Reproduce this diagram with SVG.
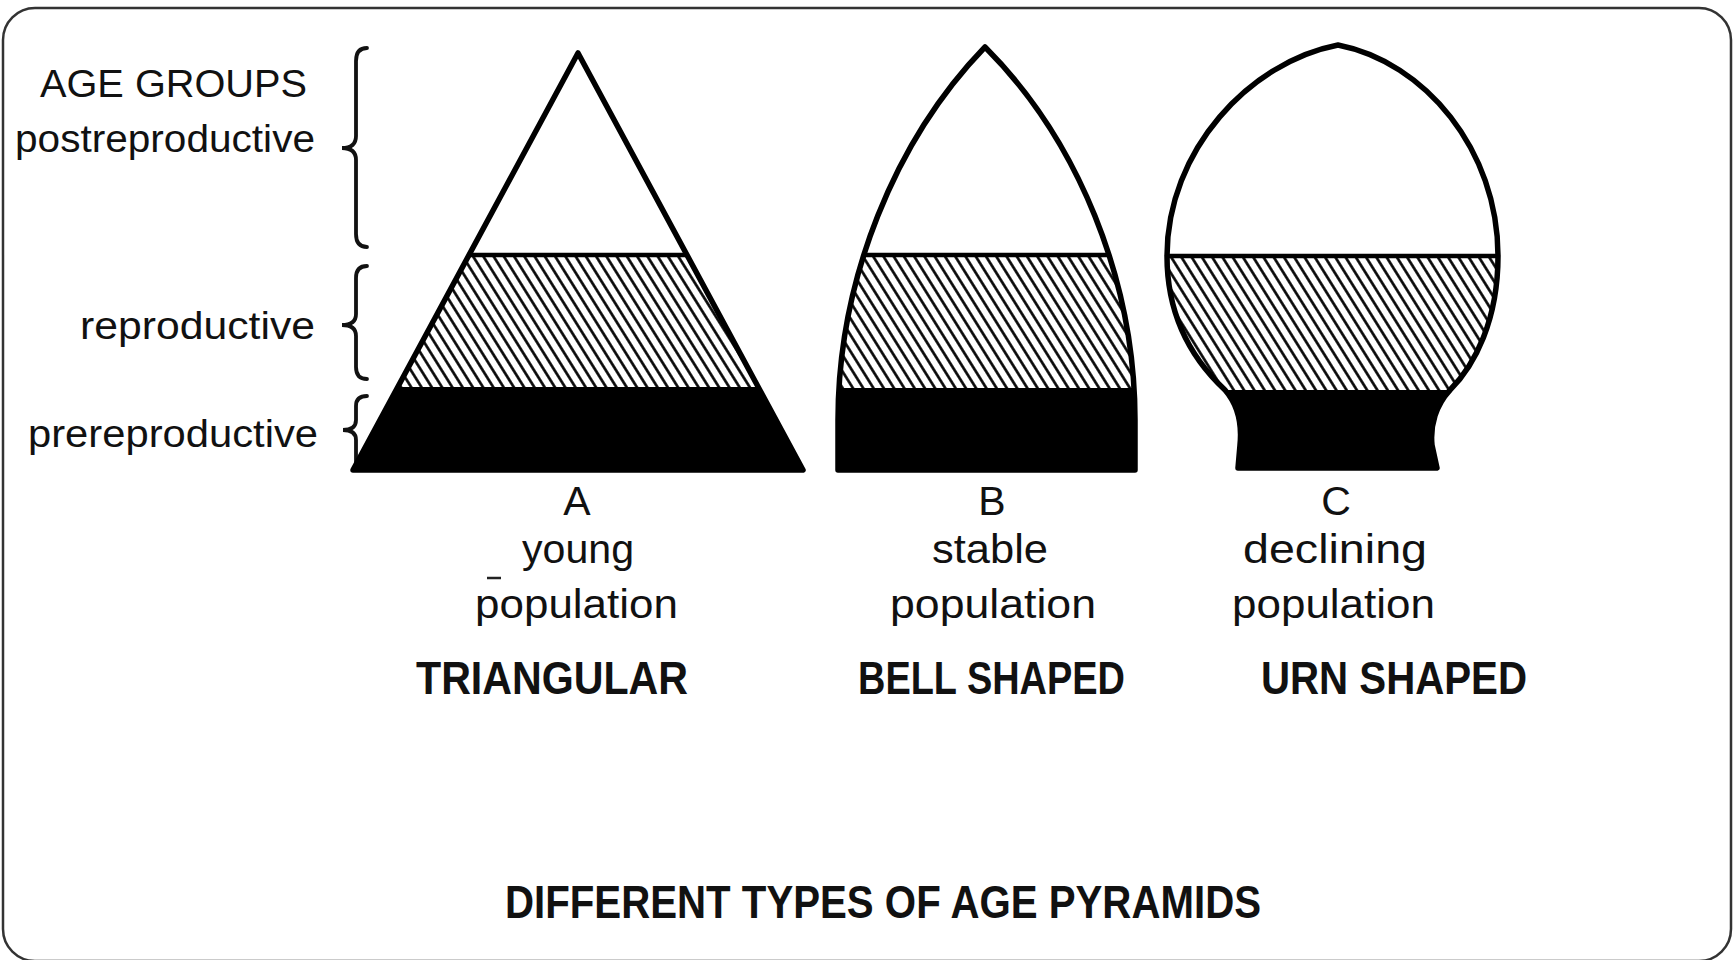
<svg xmlns="http://www.w3.org/2000/svg" width="1735" height="960" viewBox="0 0 1735 960">
<style>
.lbl{font-family:"Liberation Sans",Arial,sans-serif;font-size:39px;fill:#111}
.cap{font-family:"Liberation Sans",Arial,sans-serif;font-size:41px;fill:#111}
.bold{font-family:"Liberation Sans",Arial,sans-serif;font-size:46px;font-weight:bold;fill:#111}
.outline{fill:none;stroke:#000;stroke-width:5.5;stroke-linejoin:round}
.divider{stroke:#000;stroke-width:4.5}
.brace{fill:none;stroke:#111;stroke-width:3.8;stroke-linecap:round}
</style>
<defs>
<pattern id="hatch" patternUnits="userSpaceOnUse" width="8.7" height="10" patternTransform="rotate(-32)">
<rect width="8.7" height="10" fill="#fff"/>
<line x1="4.35" y1="-1" x2="4.35" y2="11" stroke="#000" stroke-width="2.6"/>
</pattern>
<path id="shapeA" d="M578,53 L803,470 L353,470 Z"/>
<path id="shapeB" d="M838,470 L838,420 C838,280 895,140 985,47 C1078,140 1135,280 1135,420 L1135,470 Z"/>
<path id="shapeC" d="M1338,45 C1425,62 1498,150 1498,256 C1498,320 1475,365 1450,390 C1436,405 1430,425 1432,445 L1437,468 L1238,468 L1240,445 C1242,425 1238,405 1225,390 C1195,362 1167,320 1167,256 C1167,150 1250,62 1338,45 Z"/>
<clipPath id="clipA"><use href="#shapeA"/></clipPath>
<clipPath id="clipB"><use href="#shapeB"/></clipPath>
<clipPath id="clipC"><use href="#shapeC"/></clipPath>
</defs>
<rect x="0" y="0" width="1735" height="960" fill="#fff"/>
<rect id="frame" x="3" y="8" width="1728" height="953" rx="32" ry="32" fill="none" stroke="#333" stroke-width="2.5"/>

<g id="age-labels">
<text class="lbl" x="40" y="97" font-size="36" textLength="267" lengthAdjust="spacingAndGlyphs">AGE GROUPS</text>
<text class="lbl" x="15" y="152" textLength="300" lengthAdjust="spacingAndGlyphs">postreproductive</text>
<text class="lbl" x="80" y="339" textLength="235" lengthAdjust="spacingAndGlyphs">reproductive</text>
<text class="lbl" x="28" y="447" textLength="290" lengthAdjust="spacingAndGlyphs">prereproductive</text>
</g>

<g id="connectors">
<path class="brace" d="M367,48 Q356,48 356,61 L356,136 Q356,148 342,148 Q356,148 356,160 L356,234 Q356,247 367,247"/>
<path class="brace" d="M367,266 Q356,266 356,278 L356,314 Q356,325 342,325 Q356,325 356,336 L356,367 Q356,379 367,379"/>
<path class="brace" d="M367,396 Q356,396 356,406 L356,420 Q356,430 343,430 Q356,430 356,440 L356,466"/>
</g>

<g id="pyramid-a">
<use href="#shapeA" fill="#fff"/>
<g clip-path="url(#clipA)">
<rect x="340" y="255" width="480" height="132" fill="url(#hatch)"/>
<rect x="340" y="387" width="480" height="90" fill="#000"/>
<line class="divider" x1="340" y1="255" x2="820" y2="255"/>
</g>
<use href="#shapeA" class="outline"/>
</g>

<g id="pyramid-b">
<use href="#shapeB" fill="#fff"/>
<g clip-path="url(#clipB)">
<rect x="830" y="255" width="320" height="133" fill="url(#hatch)"/>
<rect x="830" y="388" width="320" height="90" fill="#000"/>
<line class="divider" x1="830" y1="255" x2="1150" y2="255"/>
</g>
<use href="#shapeB" class="outline"/>
</g>

<g id="pyramid-c">
<use href="#shapeC" fill="#fff"/>
<g clip-path="url(#clipC)">
<rect x="1160" y="256" width="345" height="134" fill="url(#hatch)"/>
<rect x="1160" y="390" width="345" height="90" fill="#000"/>
<line class="divider" x1="1160" y1="256" x2="1505" y2="256"/>
</g>
<use href="#shapeC" class="outline"/>
</g>

<g id="caption-a">
<text class="cap" x="577" y="515" font-size="36" text-anchor="middle">A</text>
<line x1="487" y1="578" x2="501" y2="578" stroke="#222" stroke-width="2.5"/>
<text class="cap" x="522" y="563" textLength="112" lengthAdjust="spacingAndGlyphs">young</text>
<text class="cap" x="475" y="618" textLength="203" lengthAdjust="spacingAndGlyphs">population</text>
<text class="bold" x="416" y="694" textLength="272" lengthAdjust="spacingAndGlyphs">TRIANGULAR</text>
</g>

<g id="caption-b">
<text class="cap" x="992" y="515" font-size="36" text-anchor="middle">B</text>
<text class="cap" x="932" y="563" textLength="116" lengthAdjust="spacingAndGlyphs">stable</text>
<text class="cap" x="890" y="618" textLength="206" lengthAdjust="spacingAndGlyphs">population</text>
<text class="bold" x="858" y="694" textLength="267" lengthAdjust="spacingAndGlyphs">BELL SHAPED</text>
</g>

<g id="caption-c">
<text class="cap" x="1336" y="515" font-size="36" text-anchor="middle">C</text>
<text class="cap" x="1243" y="563" textLength="184" lengthAdjust="spacingAndGlyphs">declining</text>
<text class="cap" x="1232" y="618" textLength="203" lengthAdjust="spacingAndGlyphs">population</text>
<text class="bold" x="1261" y="694" textLength="266" lengthAdjust="spacingAndGlyphs">URN SHAPED</text>
</g>

<g id="title">
<text class="bold" x="505" y="918" textLength="756" lengthAdjust="spacingAndGlyphs">DIFFERENT TYPES OF AGE PYRAMIDS</text>
</g>
</svg>
